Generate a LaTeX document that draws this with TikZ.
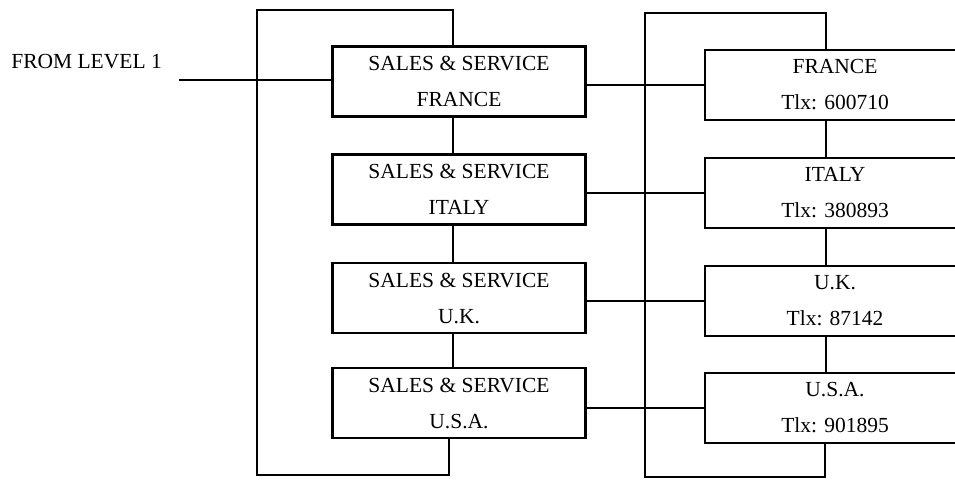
\documentclass[tikz,border=0pt]{standalone}
\usepackage{fontspec}
\setmainfont{Liberation Serif}
\begin{document}
\begin{tikzpicture}[x=1pt,y=-1pt,
  line width=2.6pt,
  lbox/.style={draw, rectangle, minimum width=253pt, minimum height=70pt, inner sep=0pt, align=center,
    font=\fontsize{21.5}{36}\selectfont},
  rbox/.style={draw, rectangle, minimum width=260pt, minimum height=70pt, inner sep=0pt, align=center,
    font=\fontsize{21.5}{36}\selectfont},
  lbl/.style={font=\fontsize{21.5}{25}\selectfont, inner sep=0pt}
]
\clip (0,0) rectangle (955,482);
\fill[white] (0,0) rectangle (955,482);

% left column
\node[lbox] (lf) at (459,81.5) {SALES \& SERVICE\\FRANCE};
\node[lbox] (li) at (459,189.5) {SALES \& SERVICE\\ITALY};
\node[lbox] (lu) at (459,298) {SALES \& SERVICE\\U.K.};
\node[lbox] (la) at (459,403) {SALES \& SERVICE\\U.S.A.};

% right column
\node[rbox] (rf) at (835,85) {FRANCE\\Tlx: 600710};
\node[rbox] (ri) at (835,193) {ITALY\\Tlx: 380893};
\node[rbox] (ru) at (835,301) {U.K.\\Tlx: 87142};
\node[rbox] (ra) at (835,408) {U.S.A.\\Tlx: 901895};

% input label
\node[lbl, anchor=base west] (from) at (10,68) {FROM LEVEL 1};
\coordinate (fromend) at (179,80);
\draw (fromend) -- (lf.west |- fromend);

% left bracket
\coordinate (lt1) at (453,10);
\coordinate (lt2) at (257,10);
\coordinate (lb2) at (257,475);
\coordinate (lb1) at (449,475);
\draw ([xshift=-6pt]lf.north) -- (lt1) -- (lt2) -- (lb2) -- (lb1) -- ([xshift=-10pt]la.south);

% left chain
\draw ([xshift=-6pt]lf.south) -- ([xshift=-6pt]li.north);
\draw ([xshift=-6pt]li.south) -- ([xshift=-6pt]lu.north);
\draw ([xshift=-6pt]lu.south) -- ([xshift=-6pt]la.north);

% right bracket
\coordinate (rt1) at (826,13);
\coordinate (rt2) at (645,13);
\coordinate (rb2) at (645,477);
\coordinate (rb1) at (825,477);
\draw ([xshift=-9pt]rf.north) -- (rt1) -- (rt2) -- (rb2) -- (rb1) -- ([xshift=-10pt]ra.south);

% right chain
\draw ([xshift=-9pt]rf.south) -- ([xshift=-9pt]ri.north);
\draw ([xshift=-9pt]ri.south) -- ([xshift=-9pt]ru.north);
\draw ([xshift=-9pt]ru.south) -- ([xshift=-9pt]ra.north);

% horizontal links
\draw (lf.east |- rf.west) -- (rf.west);
\draw (li.east |- ri.west) -- (ri.west);
\draw (lu.east |- ru.west) -- (ru.west);
\draw (la.east |- ra.west) -- (ra.west);
\end{tikzpicture}
\end{document}
